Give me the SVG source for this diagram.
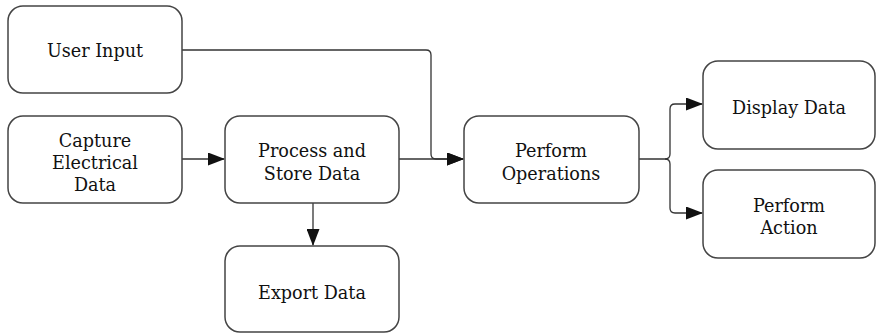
<svg xmlns="http://www.w3.org/2000/svg" width="876" height="334" viewBox="0 0 876 334">
<style>
.box{fill:#fff;stroke:#444;stroke-width:1.5}
.t{font-family:"DejaVu Serif","Liberation Serif",serif;font-size:17.6px;fill:#111;text-anchor:middle}
.c{fill:none;stroke:#333;stroke-width:1.3}
</style>
<defs>
<marker id="ah" markerWidth="17" markerHeight="13" refX="16" refY="6.5" orient="auto" markerUnits="userSpaceOnUse">
<path d="M0,0 L17,6.5 L0,13 Z" fill="#111"/>
</marker>
</defs>
<rect width="876" height="334" fill="#fff"/>
<g id="connectors">
<path class="c" d="M182,159 H224" marker-end="url(#ah)"/>
<path class="c" d="M399,159 H463" marker-end="url(#ah)"/>
<path class="c" d="M182,50 H426 Q431,50 431,55 V154 Q431,159 436,159 H463" marker-end="url(#ah)"/>
<path class="c" d="M313,203 V245" marker-end="url(#ah)"/>
<path class="c" d="M639,159 H665 Q670,159 670,154 V109 Q670,104 675,104 H702" marker-end="url(#ah)"/>
<path class="c" d="M665,159 Q670,159 670,164 V208 Q670,213 675,213 H702" marker-end="url(#ah)"/>
</g>
<g id="user-input"><rect class="box" x="8" y="6" width="174" height="87" rx="15"/><text class="t" x="95" y="57">User Input</text></g>
<g id="capture"><rect class="box" x="8" y="116" width="174" height="87" rx="15"/><text class="t" x="95" y="147">Capture</text><text class="t" x="95" y="169">Electrical</text><text class="t" x="95" y="191">Data</text></g>
<g id="process"><rect class="box" x="225" y="116" width="174" height="87" rx="15"/><text class="t" x="312" y="157">Process and</text><text class="t" x="312" y="180">Store Data</text></g>
<g id="export"><rect class="box" x="225" y="246" width="174" height="86" rx="15"/><text class="t" x="312" y="299">Export Data</text></g>
<g id="operations"><rect class="box" x="464" y="116" width="175" height="87" rx="15"/><text class="t" x="551" y="157">Perform</text><text class="t" x="551" y="180">Operations</text></g>
<g id="display"><rect class="box" x="703" y="61" width="172" height="88" rx="15"/><text class="t" x="789" y="114">Display Data</text></g>
<g id="action"><rect class="box" x="703" y="170" width="172" height="88" rx="15"/><text class="t" x="789" y="212">Perform</text><text class="t" x="789" y="234">Action</text></g>
</svg>
